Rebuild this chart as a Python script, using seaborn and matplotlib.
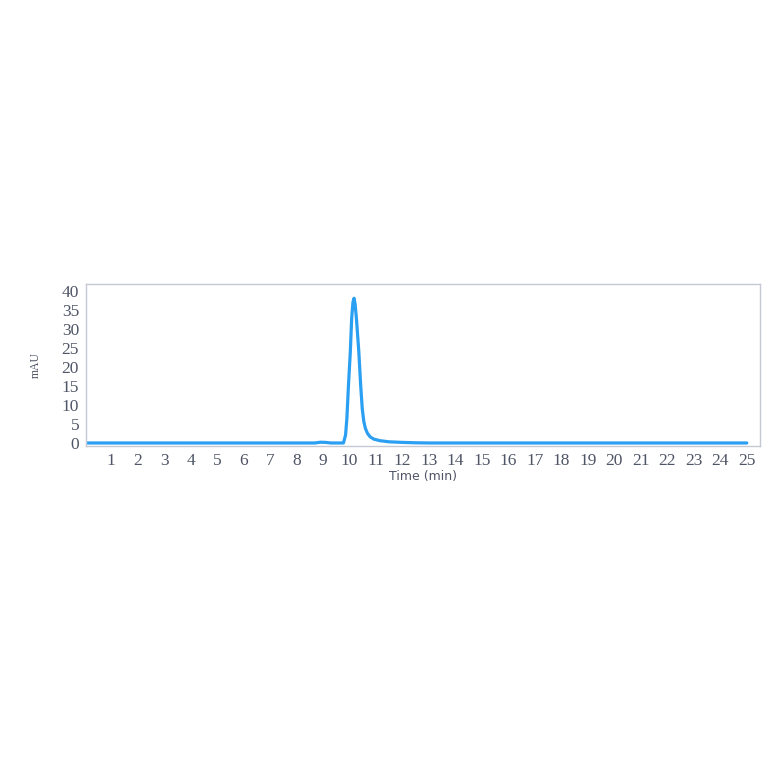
import matplotlib
matplotlib.use("Agg")
import matplotlib.pyplot as plt
import seaborn as sns
import pandas as pd

# chromatogram (time in min, signal in mAU)
time_min = [0.0, 8.7, 8.9, 9.1, 9.3, 9.77, 9.85, 9.9, 9.96, 10.03, 10.08, 10.13,
            10.17, 10.21, 10.26, 10.35, 10.42, 10.48, 10.54, 10.6, 10.68, 10.78,
            10.92, 11.15, 11.5, 12.0, 12.5, 13.0, 25.0]
signal_mau = [0.0, 0.0, 0.2, 0.15, 0.0, 0.0, 2.1, 6.5, 15.2, 24.0, 32.7, 37.0,
              38.0, 36.5, 32.7, 24.0, 15.2, 9.0, 5.6, 3.8, 2.5, 1.6,
              1.0, 0.6, 0.3, 0.15, 0.05, 0.0, 0.0]
x_ticks = list(range(1, 26))
y_ticks = list(range(0, 41, 5))

df = pd.DataFrame({"time": time_min, "mAU": signal_mau})

sns.set_style("white")
plt.rcParams['font.family'] = ['DejaVu Sans']

fig = plt.figure(figsize=(7.64, 7.64), dpi=100)
ax = fig.add_axes([0.1126, 0.4162, 0.8822, 0.2121])

sns.lineplot(data=df, x="time", y="mAU", ax=ax, color="#2b9ff2", linewidth=2.3)

ax.set_xlim(0.05, 25.5)
ax.set_ylim(-0.8, 41.75)
ax.set_xticks(x_ticks)
ax.set_yticks(y_ticks)

tick_col = "#4f5566"
for lab in ax.get_xticklabels() + ax.get_yticklabels():
    lab.set_fontfamily("Liberation Serif")
    lab.set_fontsize(12.5)
    lab.set_color(tick_col)
ax.tick_params(axis="both", length=3, width=0.8, color="#9a9ca8", pad=2)

ax.set_xlabel("Time (min)", fontsize=9, color=tick_col, labelpad=1)
ax.set_ylabel("mAU", fontsize=8.5, color=tick_col, family="Liberation Serif", labelpad=14)

for sp in ax.spines.values():
    sp.set_color("#c6c8d4")
    sp.set_linewidth(1.0)

fig.savefig("out.png", dpi=100, facecolor="white")
